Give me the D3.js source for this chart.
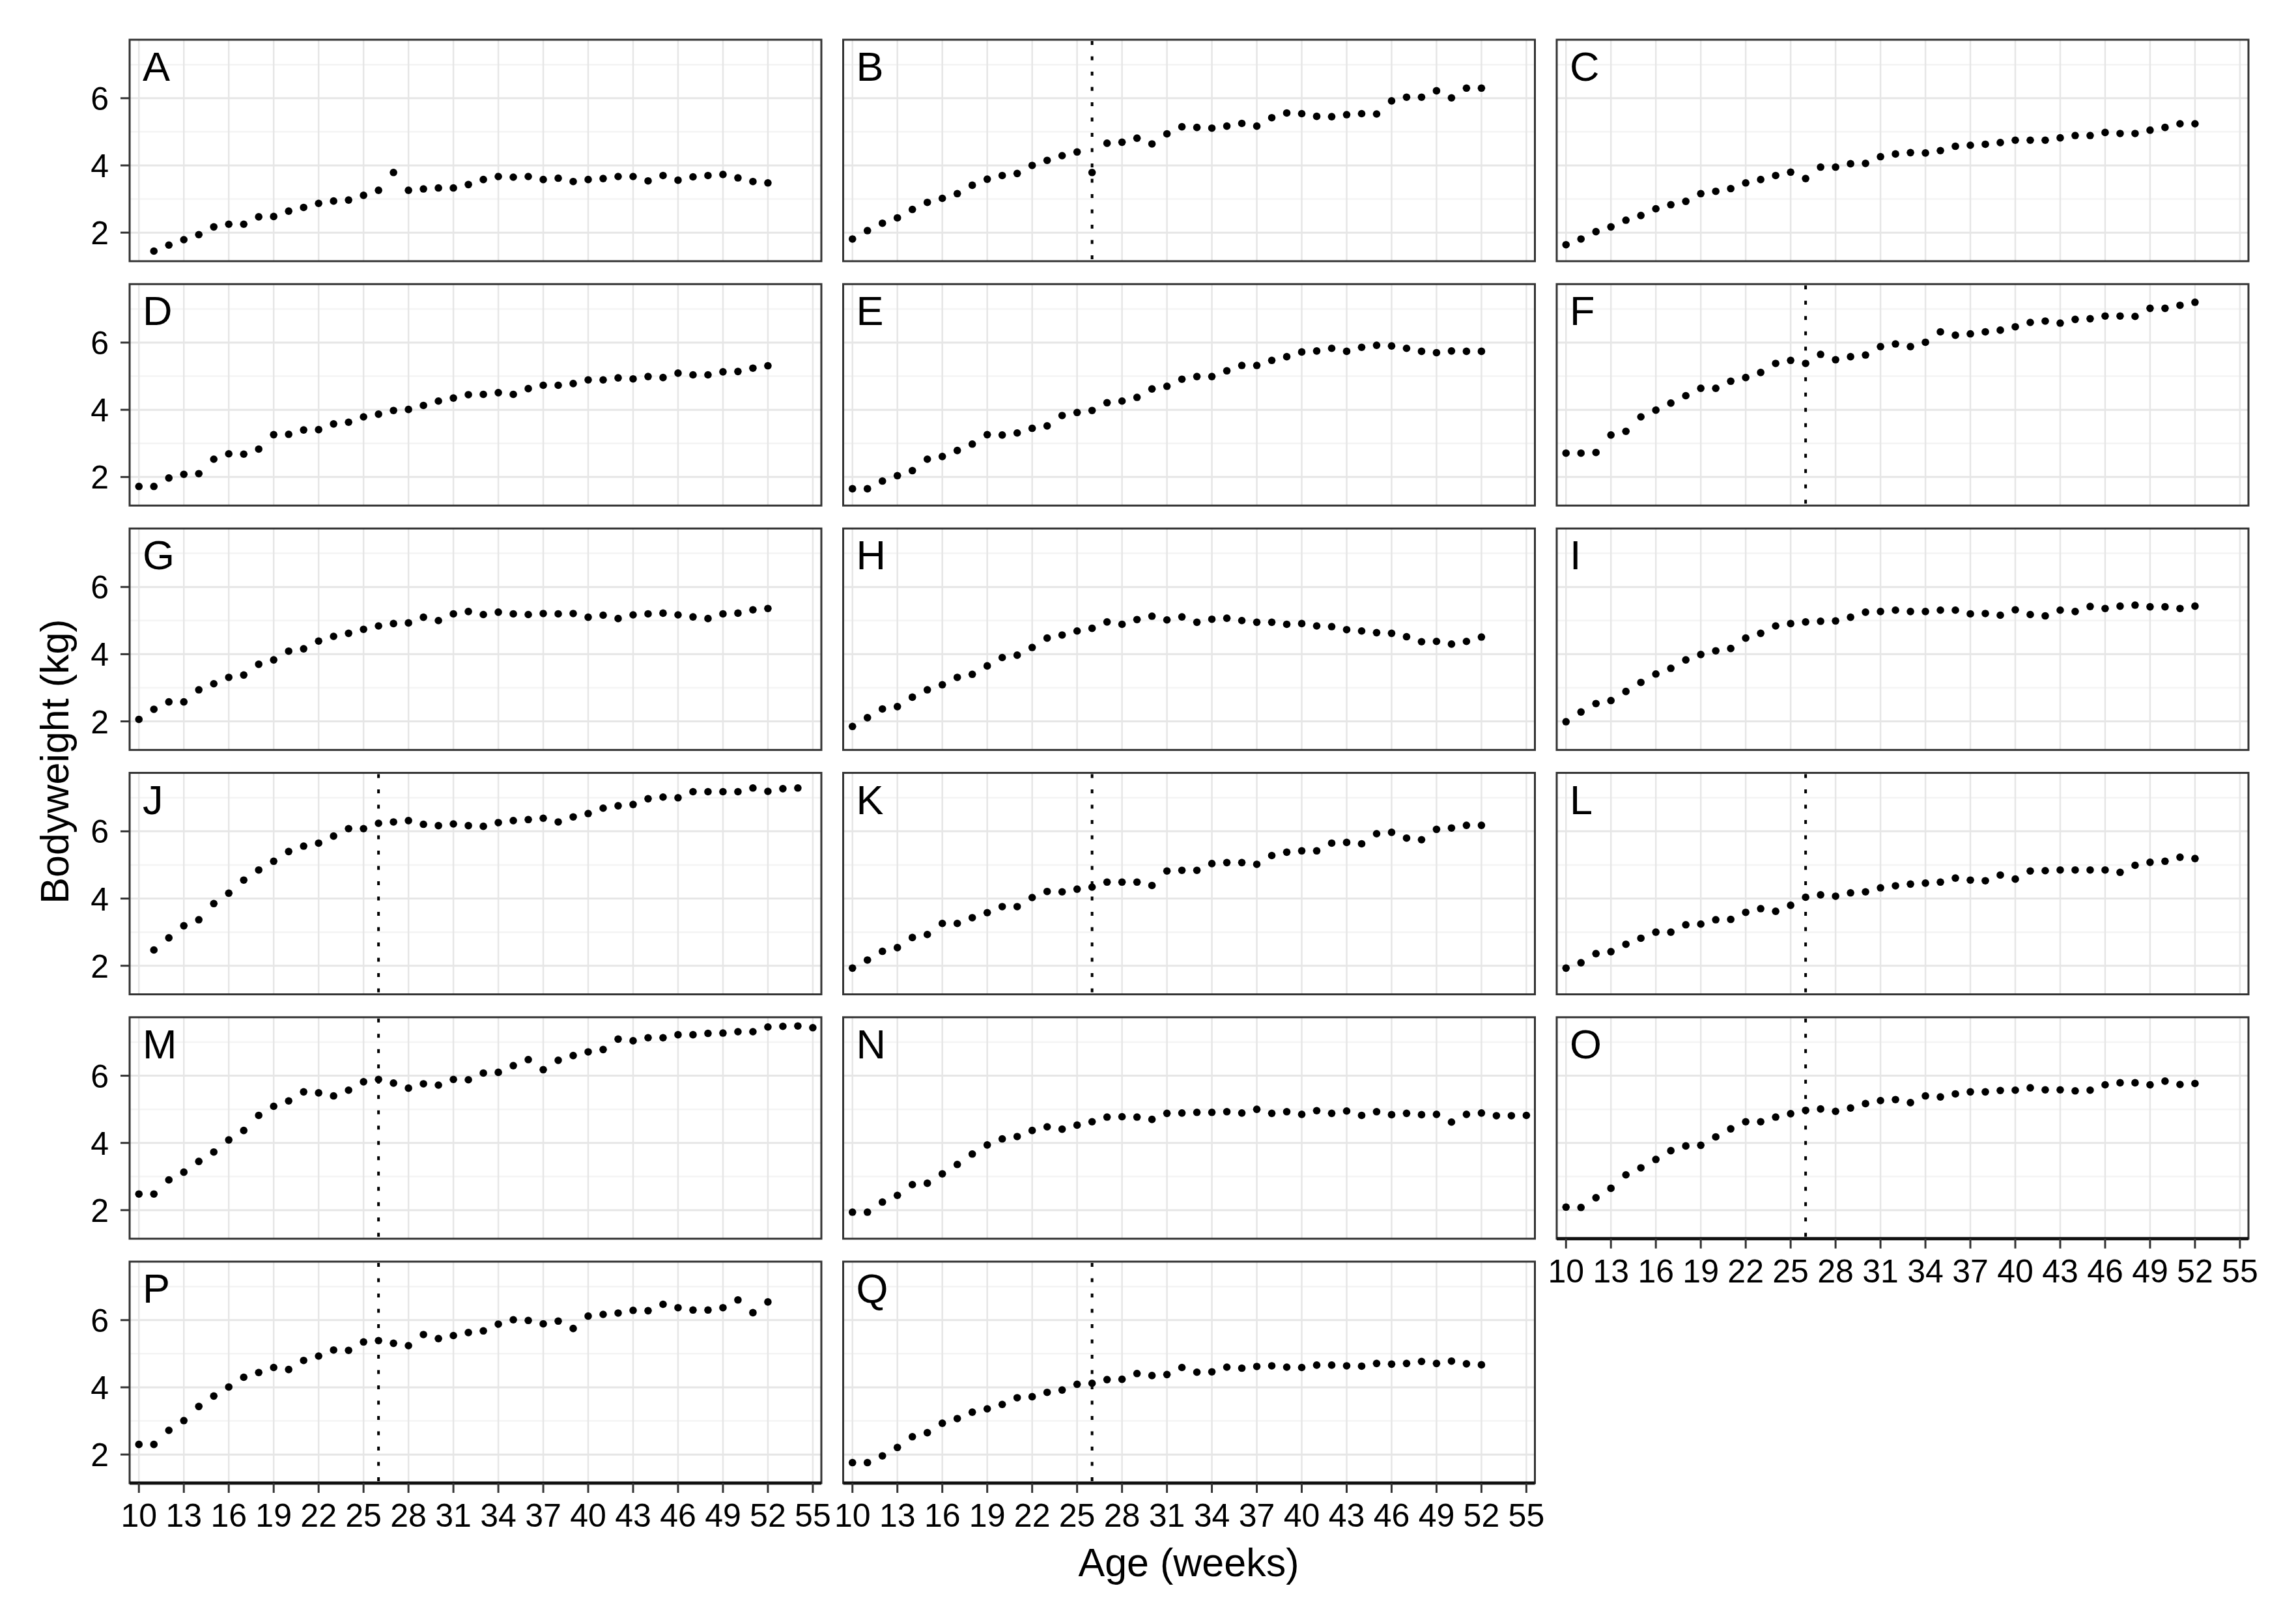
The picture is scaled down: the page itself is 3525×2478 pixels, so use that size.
<!DOCTYPE html>
<html>
<head>
<meta charset="utf-8">
<script src="https://cdn.jsdelivr.net/npm/d3@7"></script>
<style>
  body { margin: 0; background: #fff; }
  text { font-family: "Liberation Sans", Arial, sans-serif; fill: #000; }
</style>
</head>
<body>
<script>
var W = 3525, H = 2478;

// panel ids, first week of each series, and bodyweights (kg) one per week
var panels = ["A","B","C","D","E","F","G","H","I","J","K","L","M","N","O","P","Q"];
var startWeek = [11,10,10,10,10,10,10,10,10,11,10,10,10,10,10,10,10];
var cutoffWeek = 26;
var cutoffPanels = ["B","F","J","K","L","M","O","P","Q"];

var bwA = [1.45,1.63,1.79,1.94,2.17,2.25,2.25,2.47,2.48,2.64,2.75,2.87,2.94,2.97,3.11,3.26,3.79,3.26,3.30,3.33,3.33,3.43,3.58,3.67,3.65,3.67,3.58,3.62,3.52,3.58,3.61,3.67,3.67,3.54,3.70,3.56,3.66,3.70,3.73,3.63,3.52,3.48];
var bwB = [1.81,2.06,2.28,2.44,2.69,2.90,3.02,3.16,3.41,3.59,3.70,3.76,4.00,4.15,4.29,4.40,3.79,4.66,4.69,4.81,4.64,4.94,5.15,5.13,5.11,5.17,5.25,5.17,5.42,5.56,5.54,5.46,5.45,5.51,5.54,5.53,5.92,6.03,6.03,6.22,6.01,6.30,6.30];
var bwC = [1.64,1.81,2.03,2.17,2.37,2.51,2.71,2.83,2.93,3.16,3.23,3.31,3.48,3.58,3.70,3.80,3.61,3.95,3.95,4.05,4.06,4.26,4.34,4.38,4.37,4.44,4.57,4.60,4.63,4.68,4.75,4.75,4.75,4.82,4.89,4.89,4.98,4.95,4.95,5.05,5.13,5.24,5.24];
var bwD = [1.72,1.72,1.97,2.08,2.10,2.53,2.69,2.68,2.83,3.26,3.27,3.40,3.41,3.58,3.63,3.79,3.87,3.98,4.01,4.13,4.26,4.35,4.45,4.46,4.51,4.46,4.63,4.73,4.73,4.78,4.89,4.89,4.95,4.92,4.99,4.96,5.09,5.04,5.04,5.13,5.14,5.24,5.31];
var bwE = [1.65,1.65,1.88,2.04,2.19,2.53,2.61,2.79,2.98,3.26,3.25,3.31,3.45,3.52,3.83,3.92,3.98,4.21,4.26,4.37,4.62,4.70,4.91,4.99,4.99,5.16,5.32,5.32,5.47,5.58,5.72,5.75,5.83,5.74,5.86,5.92,5.90,5.83,5.74,5.70,5.75,5.74,5.74];
var bwF = [2.71,2.71,2.73,3.25,3.36,3.79,3.99,4.20,4.42,4.64,4.64,4.85,4.96,5.11,5.38,5.47,5.38,5.65,5.49,5.58,5.63,5.88,5.96,5.88,6.01,6.32,6.22,6.26,6.32,6.37,6.47,6.60,6.64,6.58,6.69,6.71,6.79,6.79,6.78,7.02,7.02,7.11,7.20];
var bwG = [2.06,2.36,2.58,2.58,2.94,3.12,3.31,3.38,3.70,3.83,4.09,4.16,4.39,4.53,4.62,4.74,4.84,4.91,4.93,5.10,5.00,5.20,5.27,5.18,5.25,5.20,5.18,5.21,5.20,5.21,5.10,5.16,5.06,5.17,5.20,5.22,5.17,5.11,5.06,5.20,5.22,5.32,5.36];
var bwH = [1.85,2.11,2.37,2.44,2.72,2.94,3.09,3.31,3.40,3.65,3.90,3.97,4.20,4.48,4.57,4.69,4.77,4.96,4.89,5.03,5.13,5.02,5.11,4.95,5.04,5.07,5.00,4.95,4.95,4.89,4.91,4.84,4.82,4.73,4.69,4.64,4.62,4.52,4.37,4.38,4.30,4.38,4.51];
var bwI = [1.99,2.28,2.53,2.62,2.89,3.16,3.41,3.58,3.83,3.99,4.10,4.17,4.48,4.62,4.84,4.91,4.96,4.98,4.99,5.10,5.25,5.27,5.31,5.27,5.27,5.31,5.31,5.20,5.21,5.16,5.32,5.18,5.14,5.31,5.27,5.42,5.36,5.43,5.46,5.41,5.41,5.36,5.43];
var bwJ = [2.47,2.83,3.19,3.37,3.85,4.16,4.55,4.85,5.11,5.40,5.56,5.65,5.86,6.08,6.08,6.24,6.28,6.32,6.21,6.17,6.22,6.17,6.15,6.26,6.32,6.35,6.39,6.28,6.43,6.53,6.69,6.76,6.80,6.97,7.02,7.00,7.18,7.18,7.18,7.18,7.29,7.19,7.27,7.29];
var bwK = [1.93,2.17,2.43,2.54,2.84,2.93,3.26,3.26,3.43,3.58,3.76,3.76,4.03,4.21,4.20,4.28,4.34,4.49,4.49,4.49,4.39,4.82,4.84,4.84,5.04,5.07,5.07,5.02,5.28,5.38,5.42,5.42,5.65,5.67,5.63,5.93,5.97,5.80,5.75,6.06,6.10,6.18,6.18];
var bwL = [1.93,2.09,2.36,2.42,2.64,2.82,3.00,3.00,3.22,3.24,3.37,3.38,3.59,3.70,3.62,3.80,4.04,4.11,4.07,4.17,4.20,4.32,4.38,4.43,4.46,4.49,4.61,4.55,4.53,4.70,4.58,4.82,4.83,4.85,4.85,4.85,4.85,4.78,4.99,5.08,5.11,5.23,5.19];
var bwM = [2.48,2.48,2.90,3.13,3.45,3.73,4.09,4.37,4.82,5.09,5.25,5.52,5.49,5.40,5.57,5.82,5.89,5.78,5.63,5.76,5.72,5.89,5.88,6.08,6.10,6.30,6.48,6.18,6.46,6.60,6.71,6.78,7.09,7.04,7.13,7.13,7.22,7.22,7.26,7.27,7.31,7.31,7.45,7.47,7.48,7.43];
var bwN = [1.94,1.94,2.24,2.44,2.76,2.80,3.08,3.36,3.67,3.94,4.12,4.19,4.37,4.48,4.41,4.53,4.63,4.77,4.78,4.77,4.70,4.88,4.89,4.91,4.91,4.93,4.89,5.00,4.88,4.93,4.85,4.96,4.88,4.95,4.82,4.93,4.84,4.88,4.84,4.85,4.62,4.85,4.89,4.81,4.81,4.82];
var bwO = [2.09,2.08,2.37,2.65,3.05,3.26,3.51,3.77,3.91,3.93,4.18,4.42,4.63,4.63,4.77,4.87,4.97,5.01,4.94,5.04,5.17,5.26,5.29,5.20,5.40,5.37,5.46,5.52,5.52,5.56,5.57,5.64,5.58,5.58,5.55,5.57,5.73,5.79,5.79,5.73,5.84,5.74,5.77];
var bwP = [2.30,2.30,2.72,3.01,3.43,3.74,4.01,4.30,4.44,4.59,4.53,4.80,4.93,5.11,5.10,5.35,5.39,5.31,5.24,5.57,5.45,5.54,5.63,5.68,5.88,6.01,5.99,5.89,5.97,5.75,6.12,6.17,6.21,6.29,6.28,6.47,6.37,6.30,6.30,6.37,6.60,6.22,6.54];
var bwQ = [1.76,1.76,1.96,2.21,2.53,2.65,2.93,3.07,3.26,3.36,3.49,3.69,3.72,3.85,3.92,4.09,4.12,4.23,4.24,4.41,4.35,4.38,4.59,4.45,4.46,4.60,4.57,4.62,4.64,4.60,4.59,4.66,4.66,4.64,4.63,4.71,4.69,4.71,4.77,4.71,4.78,4.70,4.67];

var series = [bwA,bwB,bwC,bwD,bwE,bwF,bwG,bwH,bwI,bwJ,bwK,bwL,bwM,bwN,bwO,bwP,bwQ];

var yTicks = [2,4,6];
var yMinor = [3,5,7];
var xTicks = [10,13,16,19,22,25,28,31,34,37,40,43,46,49,52,55];

// layout
var ncol = 3;
var left0 = 199, top0 = 61;
var pw = 1062, ph = 340;
var colStep = 1095.5, rowStep = 375.2;

var x = d3.scaleLinear().domain([9.38, 55.57]).range([0, pw]);
var y = d3.scaleLinear().domain([1.15, 7.74]).range([ph, 0]);

var svg = d3.select("body").append("svg")
	.attr("width", W)
	.attr("height", H)

svg.append("rect").attr("width", W).attr("height", H).attr("fill", "#fff");

panels.forEach(function(id, i){
	var col = i % ncol, row = Math.floor(i / ncol);
	var g = svg.append("g")
		.attr("transform", "translate(" + (left0 + col*colStep) + "," + (top0 + row*rowStep) + ")");

	var data = series[i].map(function(v, k){ return {week: startWeek[i] + k, bw: v}; });

	// grid
	g.selectAll(".ymin").data(yMinor).enter().append("line")
		.attr("x1", 0).attr("x2", pw)
		.attr("y1", function(d){ return y(d); }).attr("y2", function(d){ return y(d); })
		.attr("stroke", "#f4f4f4").attr("stroke-width", 2.5);
	g.selectAll(".ymaj").data(yTicks).enter().append("line")
		.attr("x1", 0).attr("x2", pw)
		.attr("y1", function(d){ return y(d); }).attr("y2", function(d){ return y(d); })
		.attr("stroke", "#e6e6e6").attr("stroke-width", 3);
	g.selectAll(".xmaj").data(xTicks).enter().append("line")
		.attr("y1", 0).attr("y2", ph)
		.attr("x1", function(d){ return x(d); }).attr("x2", function(d){ return x(d); })
		.attr("stroke", "#e6e6e6").attr("stroke-width", 2.5);

	if (cutoffPanels.indexOf(id) >= 0) {
		g.append("line")
			.attr("x1", x(cutoffWeek)).attr("x2", x(cutoffWeek))
			.attr("y1", 2).attr("y2", ph)
			.attr("stroke", "#000").attr("stroke-width", 4)
			.attr("stroke-dasharray", "6,17.5");
	}

	g.selectAll("circle").data(data).enter().append("circle")
		.attr("cx", function(d){ return x(d.week); })
		.attr("cy", function(d){ return y(d.bw); })
		.attr("r", 5.8)
		.attr("fill", "#000");

	g.append("rect")
		.attr("width", pw).attr("height", ph)
		.attr("fill", "none").attr("stroke", "#333").attr("stroke-width", 3);

	g.append("text")
		.attr("x", 20).attr("y", 63)
		.style("font-size", "63px")
		.text(id);

	// y axis on first column
	if (col == 0) {
		g.selectAll(".yt").data(yTicks).enter().append("line")
			.attr("x1", -14).attr("x2", 0)
			.attr("y1", function(d){ return y(d); }).attr("y2", function(d){ return y(d); })
			.attr("stroke", "#333").attr("stroke-width", 3);
		g.selectAll(".yl").data(yTicks).enter().append("text")
			.attr("x", -32)
			.attr("y", function(d){ return y(d); })
			.attr("dy", "0.36em")
			.attr("text-anchor", "end")
			.style("font-size", "50px")
			.text(function(d){ return d; });
	}

	// x axis on bottom panel of each column
	var bottom = (i + ncol >= panels.length);
	if (bottom) {
		g.append("line").attr("x1", 0).attr("x2", pw).attr("y1", ph).attr("y2", ph)
			.attr("stroke", "#111").attr("stroke-width", 5);
		g.selectAll(".xt").data(xTicks).enter().append("line")
			.attr("y1", ph).attr("y2", ph + 15)
			.attr("x1", function(d){ return x(d); }).attr("x2", function(d){ return x(d); })
			.attr("stroke", "#333").attr("stroke-width", 3);
		g.selectAll(".xl").data(xTicks).enter().append("text")
			.attr("y", ph + 67)
			.attr("x", function(d){ return x(d); })
			.attr("text-anchor", "middle")
			.style("font-size", "50px")
			.text(function(d){ return d; });
	}
});

svg.append("text")
	.attr("x", 1825).attr("y", 2420)
	.attr("text-anchor", "middle")
	.style("font-size", "61px")
	.text("Age (weeks)");

svg.append("text")
	.attr("transform", "translate(105,1169) rotate(-90)")
	.attr("text-anchor", "middle")
	.style("font-size", "61px")
	.text("Bodyweight (kg)");
</script>
</body>
</html>
